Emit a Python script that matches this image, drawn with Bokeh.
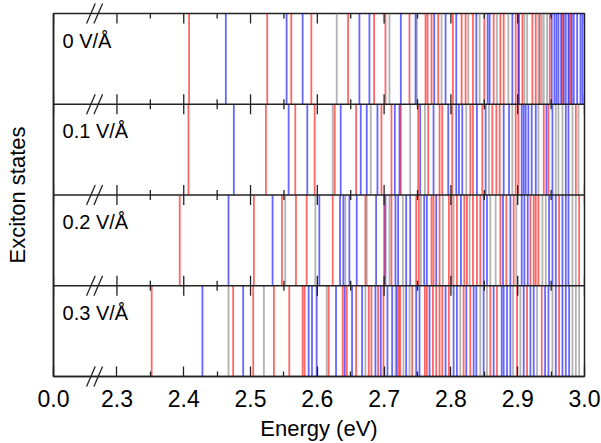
from bokeh.plotting import figure
from bokeh.models import (Range1d, FixedTicker, CustomJSTickFormatter,
                          Span, Label, ColumnDataSource)
from bokeh.embed import file_html
from bokeh.resources import INLINE

# ---------------- data ----------------
FIELD_LABELS = ["0 V/Å", "0.1 V/Å", "0.2 V/Å", "0.3 V/Å"]

RED_0 = [2.408, 2.525, 2.561, 2.591, 2.646, 2.685, 2.702, 2.738, 2.762, 2.765, 2.771,
         2.781, 2.803, 2.816, 2.822, 2.833, 2.850, 2.864, 2.874, 2.879, 2.897, 2.902,
         2.907, 2.922, 2.927, 2.933, 2.948, 2.967, 2.979]
BLUE_0 = [2.463, 2.554, 2.578, 2.663, 2.678, 2.725, 2.747, 2.775, 2.792, 2.808, 2.838,
          2.855, 2.858, 2.892, 2.901, 2.951, 2.955, 2.958, 2.961, 2.965, 2.969, 2.972,
          2.976, 2.981, 2.984, 2.989, 2.994, 2.997]
GRAY_0 = [2.629, 2.708, 2.749, 2.786, 2.826, 2.843, 2.869, 2.886, 2.910, 2.914, 2.931,
          2.936, 2.939, 2.944, 2.977]

RED_1 = [2.407, 2.523, 2.567, 2.596, 2.626, 2.658, 2.696, 2.711, 2.725, 2.751, 2.766,
         2.783, 2.787, 2.802, 2.829, 2.833, 2.847, 2.862, 2.868, 2.873, 2.897, 2.901,
         2.939, 2.946, 2.987]
BLUE_1 = [2.475, 2.557, 2.585, 2.635, 2.665, 2.674, 2.690, 2.716, 2.723, 2.754, 2.774,
          2.796, 2.808, 2.812, 2.817, 2.839, 2.852, 2.879, 2.887, 2.906, 2.909, 2.912,
          2.916, 2.921, 2.927, 2.943, 2.952, 2.972, 2.976]
GRAY_1 = [2.623, 2.680, 2.739, 2.761, 2.823, 2.857, 2.892, 2.931, 2.957, 2.961, 2.967,
          2.982, 2.991]

RED_2 = [2.394, 2.505, 2.547, 2.568, 2.584, 2.623, 2.672, 2.700, 2.711, 2.748, 2.752,
         2.771, 2.774, 2.783, 2.797, 2.801, 2.809, 2.820, 2.824, 2.833, 2.839, 2.844,
         2.874, 2.883, 2.894, 2.919, 2.924, 2.927, 2.931, 2.962, 2.992]
BLUE_2 = [2.467, 2.533, 2.603, 2.634, 2.639, 2.648, 2.659, 2.688, 2.702, 2.717, 2.721,
          2.733, 2.739, 2.760, 2.764, 2.778, 2.815, 2.849, 2.854, 2.878, 2.889, 2.906,
          2.910, 2.915, 2.947, 2.952, 2.957, 2.967, 2.972, 2.976]
GRAY_2 = [2.552, 2.597, 2.642, 2.674, 2.708, 2.728, 2.755, 2.788, 2.804, 2.828, 2.859,
          2.867, 2.898, 2.937, 2.942, 2.982, 2.987]

RED_3 = [2.352, 2.474, 2.504, 2.535, 2.558, 2.578, 2.581, 2.617, 2.638, 2.644, 2.658,
         2.677, 2.681, 2.691, 2.699, 2.722, 2.724, 2.742, 2.761, 2.764, 2.773, 2.778,
         2.783, 2.787, 2.797, 2.819, 2.829, 2.859, 2.869, 2.899, 2.914, 2.936, 2.962]
BLUE_3 = [2.428, 2.489, 2.587, 2.592, 2.599, 2.628, 2.641, 2.652, 2.667, 2.687, 2.695,
          2.705, 2.712, 2.719, 2.733, 2.748, 2.753, 2.768, 2.792, 2.804, 2.809, 2.823,
          2.834, 2.838, 2.849, 2.864, 2.876, 2.879, 2.884, 2.889, 2.909, 2.919, 2.924,
          2.941, 2.946, 2.957, 2.967, 2.972, 2.977]
GRAY_3 = [2.467, 2.520, 2.614, 2.672, 2.717, 2.729, 2.738, 2.814, 2.844, 2.854, 2.893,
          2.904, 2.929, 2.952, 2.982, 2.987, 2.992]

RED = [RED_0, RED_1, RED_2, RED_3]
BLUE = [BLUE_0, BLUE_1, BLUE_2, BLUE_3]
GRAY = [GRAY_0, GRAY_1, GRAY_2, GRAY_3]

X_ZERO = 2.205          # axis position that carries the "0.0" label (broken axis)
X_END = 3.0
MAJOR_TICKS = [X_ZERO, 2.3, 2.4, 2.5, 2.6, 2.7, 2.8, 2.9, 3.0]
TICK_LABELS = ["0.0", "2.3", "2.4", "2.5", "2.6", "2.7", "2.8", "2.9", "3.0"]
MINOR_TICKS = [2.35, 2.45, 2.55, 2.65, 2.75, 2.85, 2.95]
BREAK_MARKS = [2.261, 2.272]

FONT = "Liberation Sans"
N = len(FIELD_LABELS)
INK = "#222222"
MAJ = 0.11   # tick half-length in panel units (~10 px)
MIN = 0.055

# ---------------- figure ----------------
p = figure(width=601, height=443, output_backend="svg", toolbar_location=None,
           x_range=Range1d(X_ZERO, X_END), y_range=Range1d(0, N),
           min_border_left=53, min_border_right=17, min_border_top=13, min_border_bottom=67)
p.grid.visible = False
p.outline_line_color = INK
p.outline_line_width = 1.5
p.background_fill_color = "white"
p.border_fill_color = "white"

fmt = CustomJSTickFormatter(args=dict(tick_pos=MAJOR_TICKS, tick_text=TICK_LABELS), code="""
for (let i = 0; i < tick_pos.length; i++) { if (Math.abs(tick_pos[i] - tick) < 1e-6) return tick_text[i]; }
return "";
""")

xa = p.xaxis[0]
xa.ticker = FixedTicker(ticks=MAJOR_TICKS, minor_ticks=MINOR_TICKS)
xa.formatter = fmt
xa.major_tick_in = 10
xa.major_tick_out = 0
xa.minor_tick_in = 5
xa.minor_tick_out = 0
xa.axis_line_width = 1.5
xa.axis_line_color = INK
xa.major_tick_line_color = INK
xa.minor_tick_line_color = INK
xa.major_tick_line_width = 1.3
xa.minor_tick_line_width = 1.3
xa.major_label_text_font = FONT
xa.major_label_text_font_size = "23px"
xa.major_label_text_color = "black"
xa.major_label_standoff = 13
xa.axis_label = "Energy (eV)"
xa.axis_label_text_font = FONT
xa.axis_label_text_font_size = "22px"
xa.axis_label_text_font_style = "normal"
xa.axis_label_text_color = "black"
xa.axis_label_standoff = 6

ya = p.yaxis[0]
ya.ticker = FixedTicker(ticks=[])
ya.major_tick_in = 0
ya.major_tick_out = 0
ya.minor_tick_in = 0
ya.minor_tick_out = 0
ya.axis_line_width = 1.5
ya.axis_line_color = INK
ya.axis_label = "Exciton states"
ya.axis_label_text_font = FONT
ya.axis_label_text_font_size = "22px"
ya.axis_label_text_font_style = "normal"
ya.axis_label_text_color = "black"
ya.axis_label_standoff = 24

# ---------------- exciton lines ----------------
for colors, series in (("#808080", GRAY), ("#ff0000", RED), ("#0000ff", BLUE)):
    xs, y0, y1 = [], [], []
    for i in range(N):
        for e in series[i]:
            xs.append(e)
            y0.append(N - 1 - i)
            y1.append(N - i)
    src = ColumnDataSource(dict(x=xs, y0=y0, y1=y1))
    p.segment(x0="x", x1="x", y0="y0", y1="y1", source=src,
              line_color=colors, line_alpha=0.6, line_width=1.8)

# ---------------- panel separators + inner/top ticks ----------------
for k in range(1, N):
    p.add_layout(Span(location=k, dimension="width", line_color=INK, line_width=1.5))

tx, ty0, ty1 = [], [], []
for k in range(1, N + 1):
    up = MAJ if k < N else 0.0
    upm = MIN if k < N else 0.0
    for t in MAJOR_TICKS:
        tx.append(t); ty0.append(k - MAJ); ty1.append(k + up)
    for t in MINOR_TICKS:
        tx.append(t); ty0.append(k - MIN); ty1.append(k + upm)
p.segment(x0=tx, x1=tx, y0=ty0, y1=ty1, line_color=INK, line_width=1.3)

# ---------------- axis-break marks ----------------
bx0, bx1, by0, by1 = [], [], [], []
for k in range(0, N + 1):
    for b in BREAK_MARKS:
        bx0.append(b - 0.0065); bx1.append(b + 0.0065)
        by0.append(k - 0.11); by1.append(k + 0.11)
br = p.segment(x0=bx0, x1=bx1, y0=by0, y1=by1, line_color=INK, line_width=1.3)
br.level = "overlay"

# ---------------- panel labels ----------------
for i, lab in enumerate(FIELD_LABELS):
    p.add_layout(Label(x=X_ZERO + 0.0135, y=N - i - 0.3, text=lab, text_font=FONT,
                       text_font_size="20px", text_baseline="middle", text_align="left",
                       text_color="black"))

open("out.html", "w").write(file_html(p, INLINE))
